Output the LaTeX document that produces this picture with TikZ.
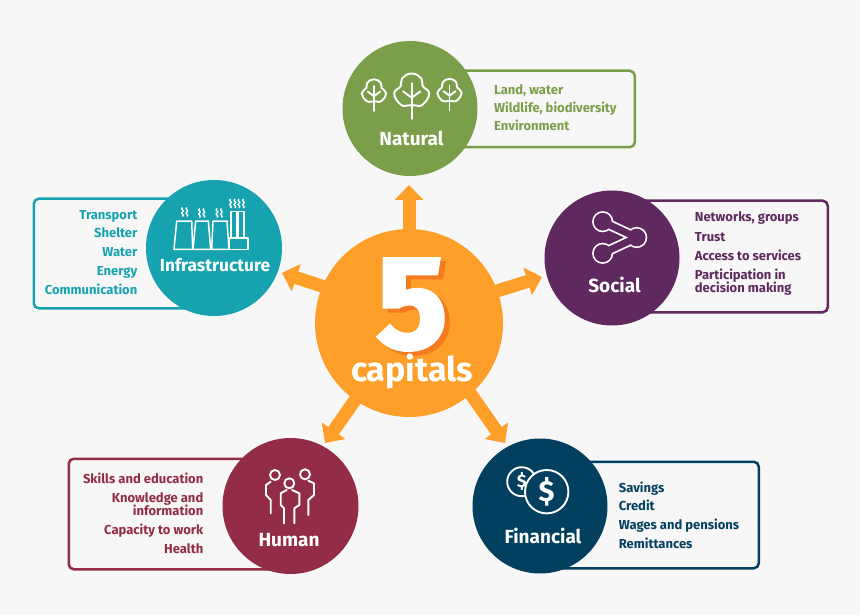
\documentclass[tikz,border=0pt]{standalone}
\usepackage{fontspec}
\setmainfont{Fira Sans}
\newfontfamily\heavyfont[FakeBold=2.6]{Fira Sans Bold}
\usetikzlibrary{arrows.meta}
\definecolor{paper}{HTML}{F7F7F7}
\definecolor{amber}{HTML}{FD9F28}
\definecolor{ember}{HTML}{F47B20}
\definecolor{natural}{HTML}{7A9E4A}
\definecolor{infra}{HTML}{17A2B0}
\definecolor{social}{HTML}{5F285E}
\definecolor{human}{HTML}{922C47}
\definecolor{financial}{HTML}{03405F}

\begin{document}
\begin{tikzpicture}[x=1pt, y=-1pt,
		  capital/.style={circle, fill=#1, minimum size=135pt, inner sep=0pt},
		  caption/.style={anchor=base, inner sep=0pt, text=white, font=\fontsize{19}{22}\bfseries\selectfont},
		  listbox/.style={draw=#1, line width=2.5pt, rounded corners=5pt, inner sep=0pt, anchor=north west},
		  item/.style={inner sep=0pt, text=#1, font=\fontsize{13}{15}\bfseries\selectfont},
		  spoke/.style={amber, line width=13pt, -{Triangle[width=28pt, length=15pt]}, shorten <=-2pt},
		  icon/.style={white, line width=1.9pt, line cap=round, line join=round},
		  tree/.pic={
		      \draw[icon] plot[smooth cycle, tension=0.8] coordinates {(0,-1) (0.55,-0.72) (0.62,-0.3) (1,0.15) (0.62,0.78) (0.18,0.82) (-0.18,0.82) (-0.62,0.78) (-1,0.15) (-0.62,-0.3) (-0.55,-0.72)};
		      \draw[icon] (0,-0.45) -- (0,1.6);
		      \draw[icon] (-0.5,0.02) -- (0,0.38) -- (0.5,0.02);
		  },
		  smoke/.pic={
		      \draw[white, line width=1.3pt] (-2,-4.5) .. controls (-5,-2.5) and (1,-1.5) .. (-2,0) .. controls (-5,1.5) and (1,2.5) .. (-2,4.5);
		      \draw[white, line width=1.3pt] (2.4,-4.5) .. controls (-0.6,-2.5) and (5.4,-1.5) .. (2.4,0) .. controls (-0.6,1.5) and (5.4,2.5) .. (2.4,4.5);
		  }]
		  \useasboundingbox[fill=paper] (0,0) rectangle (860,615);
		  % boxes behind the circles
		  \node[listbox=natural, minimum width=193.5pt, minimum height=76.5pt] (natural box) at (440,69.5) {};
		  \node[listbox=infra, minimum width=190pt, minimum height=109.5pt] (infra box) at (32.5,197.5) {};
		  \node[listbox=social, minimum width=206.5pt, minimum height=111.5pt] (social box) at (620,199.5) {};
		  \node[listbox=human, minimum width=230pt, minimum height=110.5pt] (human box) at (67.5,457.5) {};
		  \node[listbox=financial, minimum width=207.5pt, minimum height=106.5pt] (financial box) at (550,460.5) {};
		  % circles
		  \node[capital=natural] (natural) at (410,108.5) {};
		  \node[capital=infra, minimum size=136pt] (infra) at (214,248) {};
		  \node[capital=social] (social) at (612,258) {};
		  \node[capital=human, minimum size=136pt] (human) at (290.5,506) {};
		  \node[capital=financial] (financial) at (540,506) {};
		  \node[circle, fill=amber, minimum size=188pt, inner sep=0pt] (five) at (409,323) {};
		  % arrows
		  \coordinate (natural tip) at (409,185);
		  \coordinate (infra tip) at (282,273);
		  \coordinate (social tip) at (542,277);
		  \coordinate (human tip) at (325,443);
		  \coordinate (financial tip) at (505,443);
		  \draw[spoke] (five.90) -- (natural tip);
		  \draw[spoke] (five.157) -- (infra tip);
		  \draw[spoke] (five.20) -- (social tip);
		  \draw[spoke] (five.-125) -- (human tip);
		  \draw[spoke] (five.-49) -- (financial tip);
		  % centre
		  \node[anchor=base, inner sep=0pt, text=ember, font=\fontsize{132}{132}\heavyfont] (five shadow) at (417,352) {5};
		  \node[anchor=base, inner sep=0pt, text=white, font=\fontsize{132}{132}\heavyfont] (five digit) at (412,348) {5};
		  \node[anchor=base, inner sep=0pt, text=white, font=\fontsize{34}{36}\bfseries\selectfont] (five label) at (412,381) {capitals};
		  % captions
		  \node[caption] (natural label) at (411.5,146) {Natural};
		  \node[caption, font=\fontsize{17.4}{20}\bfseries\selectfont] (infra label) at (215,271.7) {Infrastructure};
		  \node[caption] (social label) at (614.5,292.7) {Social};
		  \node[caption] (human label) at (289,546) {Human};
		  \node[caption] (financial label) at (543,543) {Financial};
		  % lists
		  \foreach \y/\line in {95/{Land, water}, 113/{Wildlife, biodiversity}, 131/{Environment}}{
		      \node[item=natural, anchor=base west] (natural \y) at (494,\y) {\line};
		  }
		  \foreach \y/\line in {219/Transport, 237/Shelter, 256/Water, 275/Energy, 294/Communication}{
		      \node[item=infra, anchor=base east] (infra \y) at (137.5,\y) {\line};
		  }
		  \foreach \y/\line in {222/{Networks, groups}, 241/Trust, 260/Access to services, 279/Participation in, 292/decision making}{
		      \node[item=social, anchor=base west] (social \y) at (694.7,\y) {\line};
		  }
		  \foreach \y/\line in {483/Skills and education, 502/Knowledge and, 515/information, 534/Capacity to work, 553/Health}{
		      \node[item=human, anchor=base east] (human \y) at (203.5,\y) {\line};
		  }
		  \foreach \y/\line in {492/Savings, 510/Credit, 529/Wages and pensions, 548/Remittances}{
		      \node[item=financial, anchor=base west] (financial \y) at (618.7,\y) {\line};
		  }
		  % natural icon
		  \pic[scale=12.2] at (374,91.5) {tree};
		  \pic[scale=17.5] at (411.7,91) {tree};
		  \pic[scale=12.2] at (449.5,91) {tree};
		  % infrastructure icon
		  \draw[icon, line width=1.5pt] (176.7,221) -- (191.7,221) -- (192.7,249.3) -- (174,249.3) -- cycle;
		  \draw[icon, line width=1.5pt] (195.7,221) -- (208.3,221) -- (210.7,249.3) -- (193,249.3) -- cycle;
		  \draw[icon, line width=1.5pt] (213,221) -- (227,221) -- (229,249.3) -- (211.7,249.3) -- cycle;
		  \draw[icon, line width=1.5pt] (229,238) rectangle (248,249.3);
		  \draw[icon, line width=1.5pt] (231,238) -- (231,211.7) -- (237,211.7) -- (237,238);
		  \draw[icon, line width=1.5pt] (238.5,238) -- (238.5,211.7) -- (244,211.7) -- (244,238);
		  \pic at (184.5,212) {smoke};
		  \pic at (201.5,213) {smoke};
		  \pic at (219,213) {smoke};
		  \pic at (232.5,203.5) {smoke};
		  \pic at (241,203.5) {smoke};
		  % social icon
		  \foreach \c/\w/\r in {white/10.5/10.6, social/7/8.9}{
		      \draw[\c, line width=\w pt, line join=round] (602.7,221.7) -- (636.7,237.5) -- (602.7,253.3);
		      \fill[\c] (602.7,221.7) circle[radius=\r];
		      \fill[\c] (636.7,237.5) circle[radius=\r];
		      \fill[\c] (602.7,253.3) circle[radius=\r];
		  }
		  % human icon
		  \draw[icon] (275,475) circle[radius=5];
		  \draw[icon] (305,474.3) circle[radius=5];
		  \draw[icon] (289.3,483.3) circle[radius=5];
		  \draw[icon] (284,523.3) -- (284,508.3) -- (280.7,505) -- (280.7,493.3) -- (286.7,490);
		  \draw[icon] (294.3,523.3) -- (294.3,508.3) -- (299.3,505) -- (299.3,493.3) -- (292,490);
		  \draw[icon] (270.7,513.3) -- (270.7,500) -- (266,495) -- (266,485) -- (270.7,481.7);
		  \draw[icon] (308.3,515) -- (308.3,500) -- (314,495) -- (314,483.3) -- (308.3,480.7);
		  % financial icon
		  \draw[icon] (521.7,481.7) circle[radius=14.5];
		  \node[inner sep=0pt, text=white, font=\fontsize{18}{20}\bfseries\selectfont] (back dollar) at (521.7,481.7) {\$};
		  \draw[icon, fill=financial] (546.7,491.7) circle[radius=21.7];
		  \node[inner sep=0pt, text=white, font=\fontsize{29}{30}\bfseries\selectfont] (front dollar) at (546.7,491.7) {\$};
\end{tikzpicture}
\end{document}
